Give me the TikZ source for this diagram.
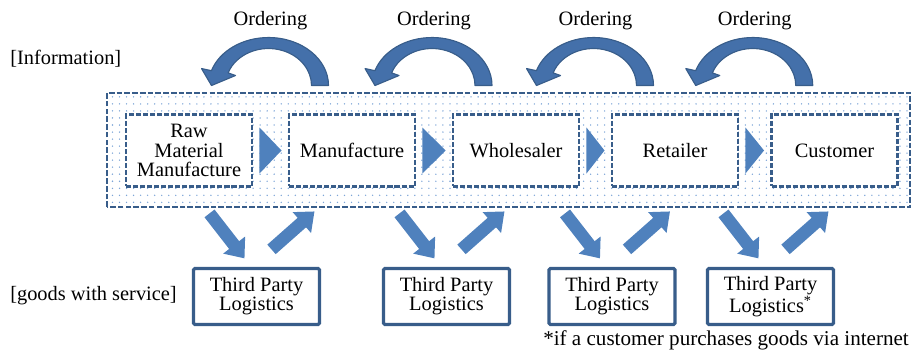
\documentclass[tikz,border=0pt]{standalone}
\usepackage{fontspec}
\setmainfont{LiberationSerif}[Extension=.ttf, UprightFont=*-Regular, BoldFont=*-Bold]
\usetikzlibrary{arrows.meta,calc,patterns.meta}

\definecolor{edgeblue}{RGB}{56,93,138}
\definecolor{flowblue}{RGB}{79,129,189}
\definecolor{dotblue}{RGB}{125,165,215}
\definecolor{bendblue}{RGB}{68,112,170}

\tikzset{
  stage/.style={draw=edgeblue, line width=2.1pt, dash pattern=on 3.6pt off 1.4pt,
    fill=white, minimum width=89.6pt, minimum height=51.2pt, align=center},
  tpl/.style={draw=edgeblue, line width=2.3pt, rounded corners=1pt, fill=white,
    minimum width=89.6pt, minimum height=39.8pt, align=center},
  band/.style={draw=edgeblue, line width=0.9pt, dash pattern=on 4pt off 1.5pt,
    pattern={Dots[distance=5pt,radius=0.55pt]}, pattern color=dotblue},
  goods/.style={flowblue, line width=9pt, -{Triangle[width=19pt,length=12pt]}},
  ordarrow/.style={fill=bendblue, draw=edgeblue, line width=0.8pt, line join=round},
  side/.style={inner sep=0pt}
}

\begin{document}
\begin{tikzpicture}[x=0.025cm, y=0.025cm, font=\fontsize{14.5}{13.6}\selectfont]
\useasboundingbox (0,0) rectangle (915,350);

% Dotted information band
\draw [band] (107,143) rectangle (910,257);

% Stages of the chain
\foreach \i/\x/\lab in {1/189/{Raw\\Material\\Manufacture}, 2/352/Manufacture,
    3/516/Wholesaler, 4/675/Retailer, 5/834.5/Customer} {
  \node [stage] (p\i) at (\x,199.5) {\lab};
}

% Flow triangles and ordering arrows between stages
\foreach \i/\j in {1/2,2/3,3/4,4/5} {
  \fill [flowblue] ($(p\i.east)+(6,23)$) -- ($(p\j.west)+(-6,0)$)
    -- ($(p\i.east)+(6,-23)$) -- cycle;
  \begin{scope}[shift={($(p\i.north)!0.5!(p\j.north)+(-2,27.5)$)}]
    \filldraw [ordarrow] (60,0) arc [start angle=0, end angle=162, x radius=60, y radius=48]
      -- (-67,17) -- (-57,0) -- (-33,10)
      -- (160:43 and 37) arc [start angle=160, end angle=0, x radius=43, y radius=37] -- cycle;
  \end{scope}
  \node (o\i) at ($(p\i.north)!0.5!(p\j.north)+(0,92.5)$) {Ordering};
}

% Third party logistics and goods flow
\foreach \i/\x/\lab in {1/256.5/{Third Party\\Logistics}, 2/446.5/{Third Party\\Logistics},
    3/612/{Third Party\\Logistics}, 4/770.5/{Third Party\\Logistics\textsuperscript{*}}} {
  \node [tpl] (t\i) at (\x,53.5) {\lab};
  \draw [goods] ($(t\i.north)+(-47,53.5)$) -- ($(t\i.north)+(-12,8.5)$);
  \draw [goods] ($(t\i.north)+(15,17.5)$) -- ($(t\i.north)+(58,55.5)$);
}

% Side labels and footnote
\node [side, anchor=west] (info) at (10,291) {[Information]};
\node [side, anchor=west] (goods) at (10,54) {[goods with service]};
\node [side, anchor=base west, font=\fontsize{15}{16}\selectfont] (note) at (543,5)
  {*if a customer purchases goods via internet};
\end{tikzpicture}
\end{document}
